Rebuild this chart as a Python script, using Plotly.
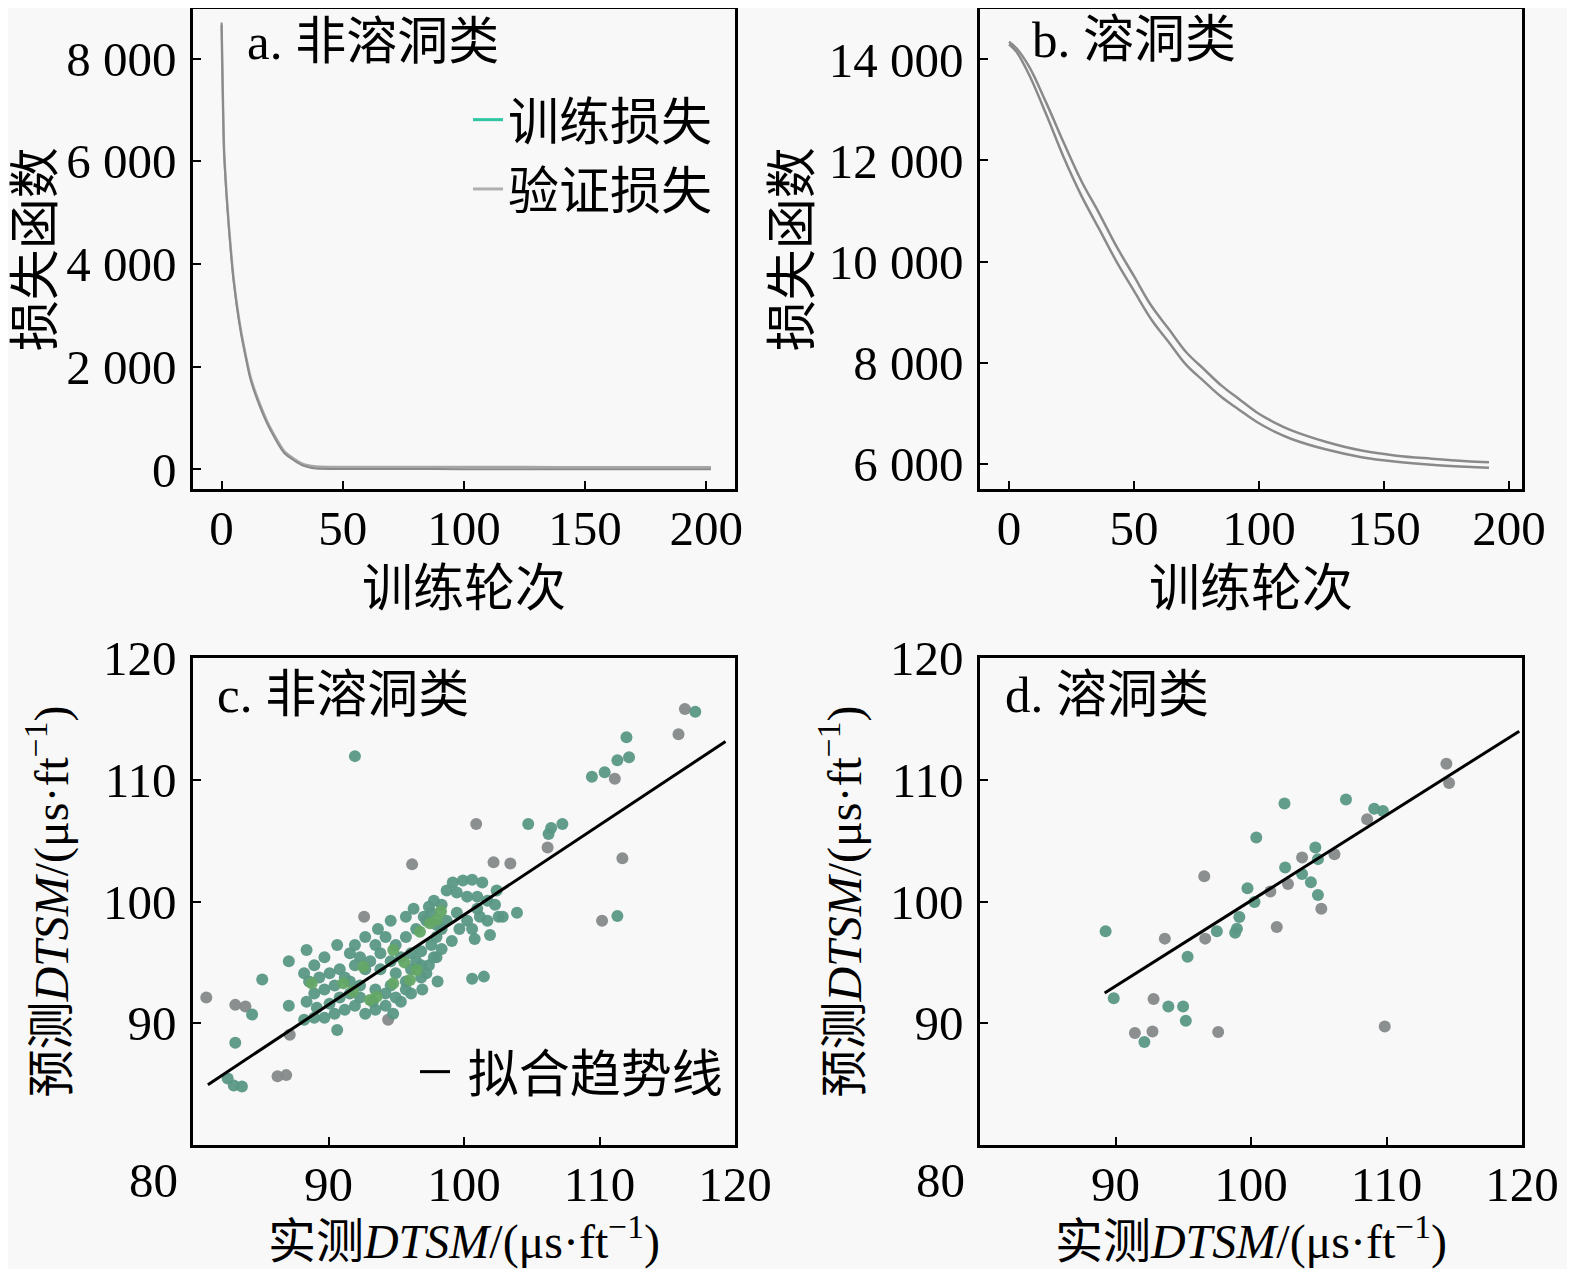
import numpy as np
import plotly.graph_objects as go

FONT = "Liberation Serif, 'Noto Sans CJK SC', serif"

# ---- a. 非溶洞类: loss curves ----
epochs_a = [0, 1, 2, 3, 5, 8, 12, 16, 20, 26, 33, 39, 50, 75, 100, 125, 150, 175, 202]
train_loss_a = [8700, 6200, 5350, 4700, 3650, 2650, 1740, 1200, 780, 310, 88, 20, 10, 8, 6, 5, 5, 4, 4]
val_loss_a = [8650, 6250, 5400, 4750, 3700, 2700, 1790, 1250, 820, 350, 120, 60, 50, 48, 47, 46, 45, 45, 45]

# ---- b. 溶洞类: loss curves ----
epochs_b = [0, 3, 8, 15, 22, 29, 36, 43, 50, 57, 64, 71, 78, 85, 92, 99, 106, 113, 127, 141, 155, 169, 183, 192]
train_loss_b = [14350, 14220, 13860, 13130, 12340, 11590, 10960, 10300, 9710, 9120, 8660, 8200, 7870,
                7545, 7280, 7020, 6820, 6660, 6430, 6260, 6160, 6100, 6050, 6030]
val_loss_b = [14300, 14150, 13700, 12900, 12050, 11300, 10650, 10000, 9420, 8850, 8400, 7950, 7630,
              7320, 7070, 6830, 6640, 6490, 6280, 6130, 6040, 5980, 5940, 5920]

# ---- c. 非溶洞类: measured vs predicted DTSM ----
c_teal_x = [117.07, 111.99, 112.18, 111.32, 109.44, 110.38, 91.95, 104.74, 106.43, 107.26, 106.24, 103.91,
            111.32, 101.47, 100.6, 84.36, 85.11, 87.07, 87.07, 83.12, 82.56, 83.01, 83.61, 88.38, 90.64,
            98.05, 96.92, 100.79, 101.92, 102.56, 102.41,
            99.17, 99.92, 100.60, 101.35, 98.72, 99.47, 100.23, 100.98, 101.73, 102.29, 102.86, 101.17,
            100.23, 99.47, 98.35, 97.78, 97.59, 98.72, 100.60, 101.73, 100.98, 99.66, 98.35, 99.10, 97.97,
            97.59, 96.84, 96.47, 97.97, 98.35,
            95.71, 94.59, 93.65, 94.21, 92.71, 91.95, 93.46, 94.96, 95.71, 96.47, 97.22, 96.09, 95.34,
            94.59, 93.83, 93.08, 92.33, 91.58, 91.95, 92.71, 93.83, 94.96, 96.09, 96.84, 97.22, 95.71,
            94.59, 93.46, 92.33, 91.58,
            90.64, 89.70, 88.95, 88.20, 88.57, 89.32, 90.08, 90.83, 91.20, 90.45, 89.70, 88.95, 88.38,
            89.14, 90.08, 90.83, 91.58, 92.33, 91.95, 91.20, 90.45, 89.70, 88.95, 88.20, 93.27, 94.21,
            94.96, 94.21, 93.46, 92.71,
            96.09, 95.34, 94.77, 95.71, 96.84, 97.41, 97.78, 97.97, 97.03, 96.28, 97.41]
c_teal_y = [115.59, 113.50, 111.84, 111.61, 110.25, 110.61, 111.94, 106.37, 106.04, 106.37, 105.54, 99.07,
            98.81, 93.83, 93.66, 90.71, 93.60, 95.09, 91.44, 88.39, 85.47, 84.88, 84.81, 96.02, 89.45,
            93.43, 92.77, 96.92, 97.25, 98.74, 100.90,
            101.56, 101.72, 101.79, 101.56, 100.90, 100.73, 100.40, 100.40, 100.07, 99.73, 98.74, 98.74,
            98.41, 99.07, 99.73, 100.07, 99.07, 98.41, 97.74, 98.41, 99.40, 97.74, 97.74, 96.75, 97.08,
            96.42, 95.92, 95.09, 95.42, 96.09,
            98.74, 98.41, 97.74, 97.08, 97.08, 96.42, 96.42, 96.42, 97.08, 97.74, 98.41, 95.75, 95.42,
            95.09, 95.75, 95.09, 95.42, 95.75, 94.76, 94.43, 94.43, 94.10, 94.43, 94.76, 94.10, 93.43,
            93.10, 92.77, 93.10, 93.43,
            96.42, 95.42, 94.76, 94.10, 93.43, 93.76, 94.10, 94.43, 93.76, 93.10, 92.77, 92.44, 91.77,
            91.28, 91.61, 92.11, 92.44, 92.11, 91.44, 91.11, 90.78, 90.45, 90.45, 90.28, 91.77, 91.44,
            92.11, 92.44, 91.11, 90.78,
            92.44, 91.77, 90.78, 92.77, 93.76, 94.76, 95.42, 98.08, 98.74, 99.40, 99.57]
c_gray_x = [116.30, 115.83, 111.13, 100.90, 106.17, 111.69, 96.17, 102.18, 103.42, 80.98, 83.12, 83.87,
            92.63, 110.19, 86.24, 86.88, 87.14, 94.40]
c_gray_y = [115.82, 113.73, 110.08, 106.37, 104.44, 103.55, 103.05, 103.22, 103.12, 92.11, 91.51, 91.38,
            98.74, 98.41, 85.64, 85.74, 89.05, 90.28]
c_green_x = [88.76, 91.09, 93.06, 94.78, 94.78, 96.51, 97.49, 97.98, 96.75, 92.57, 93.55, 96.01, 91.80,
             95.60, 98.30]
c_green_y = [93.28, 93.28, 91.91, 96.02, 93.28, 94.37, 98.21, 98.48, 97.52, 94.64, 92.18, 93.55, 92.60,
             95.00, 99.20]
fit_c_slope, fit_c_intercept = 0.738, 25.10
fit_c_xrange = [81.1, 119.3]

# ---- d. 溶洞类: measured vs predicted DTSM ----
d_teal_x = [102.47, 107.01, 109.09, 109.74, 100.39, 104.75, 104.94, 102.52, 103.77, 104.42, 104.94, 99.74,
            100.26, 99.14, 98.96, 98.83, 97.48, 89.27, 95.32, 89.87, 93.90, 94.99, 95.19, 92.13]
d_teal_y = [108.05, 108.38, 107.62, 107.43, 105.25, 104.44, 103.48, 102.80, 102.26, 101.58, 100.54, 101.09,
            99.95, 98.72, 97.77, 97.44, 97.55, 97.55, 95.46, 92.05, 91.37, 91.37, 90.20, 88.46]
d_gray_x = [114.42, 114.62, 108.57, 103.77, 106.16, 96.55, 102.73, 105.19, 101.43, 96.62, 93.64, 101.90,
            92.81, 91.43, 92.73, 97.58, 109.87]
d_gray_y = [111.32, 109.74, 106.75, 103.62, 103.89, 102.07, 101.44, 99.40, 100.82, 96.95, 96.95, 97.90,
            92.00, 89.20, 89.33, 89.28, 89.74]
fit_d_slope, fit_d_intercept = 0.703, 29.77
fit_d_xrange = [89.2, 119.8]

TEAL = "#5a9885"
GRAY = "#85898a"
GREEN = "#63a765"

# page body has an 8 px margin, so the figure starts at (8, 8)
W, H, OFF = 1559, 1261, 8


def px(x):
    return (x - OFF) / W


def py(y):
    return 1 - (y - OFF) / H


fig = go.Figure()

# panel a
fig.add_trace(go.Scatter(x=epochs_a, y=val_loss_a, mode="lines",
                         line=dict(color="#a6a6a6", width=2.5, shape="spline", smoothing=0.5),
                         showlegend=False, xaxis="x", yaxis="y"))
fig.add_trace(go.Scatter(x=epochs_a, y=train_loss_a, mode="lines",
                         line=dict(color="#8a8a8a", width=2, shape="spline", smoothing=0.5),
                         showlegend=False, xaxis="x", yaxis="y"))
fig.add_trace(go.Scatter(x=[None], y=[None], mode="lines", line=dict(color="#2fc4a4", width=3),
                         name="训练损失", xaxis="x", yaxis="y"))
fig.add_trace(go.Scatter(x=[None], y=[None], mode="lines", line=dict(color="#b0b0b0", width=3),
                         name="验证损失", xaxis="x", yaxis="y"))

# panel b
fig.add_trace(go.Scatter(x=epochs_b, y=train_loss_b, mode="lines",
                         line=dict(color="#8a8a8a", width=2.5, shape="spline"),
                         showlegend=False, xaxis="x2", yaxis="y2"))
fig.add_trace(go.Scatter(x=epochs_b, y=val_loss_b, mode="lines",
                         line=dict(color="#8a8a8a", width=2.5, shape="spline"),
                         showlegend=False, xaxis="x2", yaxis="y2"))

# panel c
for xs, ys, col in [(c_gray_x, c_gray_y, GRAY), (c_teal_x, c_teal_y, TEAL), (c_green_x, c_green_y, GREEN)]:
    fig.add_trace(go.Scatter(x=xs, y=ys, mode="markers", marker=dict(color=col, size=12, opacity=0.95),
                             showlegend=False, xaxis="x3", yaxis="y3"))
fx = np.array(fit_c_xrange)
fig.add_trace(go.Scatter(x=fx, y=fit_c_slope * fx + fit_c_intercept, mode="lines",
                         line=dict(color="black", width=3), name=" 拟合趋势线", legend="legend2",
                         xaxis="x3", yaxis="y3"))

# panel d
for xs, ys, col in [(d_gray_x, d_gray_y, GRAY), (d_teal_x, d_teal_y, TEAL)]:
    fig.add_trace(go.Scatter(x=xs, y=ys, mode="markers", marker=dict(color=col, size=12, opacity=0.95),
                             showlegend=False, xaxis="x4", yaxis="y4"))
fx = np.array(fit_d_xrange)
fig.add_trace(go.Scatter(x=fx, y=fit_d_slope * fx + fit_d_intercept, mode="lines",
                         line=dict(color="black", width=3), showlegend=False, xaxis="x4", yaxis="y4"))


def axis(domain, rng, anchor, **kw):
    d = dict(domain=domain, range=rng, anchor=anchor, showline=True, linecolor="black", linewidth=2.5,
             mirror=True, ticks="inside", ticklen=8, tickwidth=2, tickcolor="black", showgrid=False,
             zeroline=False, automargin=False, tickfont=dict(size=49, family=FONT, color="black"))
    d.update(kw)
    return d


col1 = [px(193), px(735)]
col2 = [px(980), px(1522)]
row1 = [py(489), 0.999]
row2 = [py(1145), py(658)]
cjk = dict(size=51, family=FONT, color="black")
dtsm_font = dict(size=48, family=FONT, color="black")
dtsm_x = "实测<i>DTSM</i>/(μs·ft<sup>−1</sup>)"
dtsm_y = "预测<i>DTSM</i>/(μs·ft<sup>−1</sup>)"

fig.update_layout(
    width=W, height=H,
    margin=dict(l=0, r=0, t=0, b=0),
    paper_bgcolor="#f8f8f8", plot_bgcolor="#f8f8f8",
    separators=". ",
    font=dict(family=FONT, color="black"),
    xaxis=axis(col1, [-11.8, 211.9], "y", tickvals=[0, 50, 100, 150, 200], ticklabelstandoff=-6,
               title=dict(text="训练轮次", font=cjk, standoff=16)),
    yaxis=axis(row1, [-380, 8959], "x", tickvals=[0, 2000, 4000, 6000, 8000], tickformat=",d",
               ticklabelstandoff=4, title=dict(text="损失函数", font=cjk, standoff=2)),
    xaxis2=axis(col2, [-11.6, 205.2], "y2", tickvals=[0, 50, 100, 150, 200], ticklabelstandoff=-6,
                title=dict(text="训练轮次", font=cjk, standoff=16)),
    yaxis2=axis(row1, [5500, 14992], "x2", tickvals=[6000, 8000, 10000, 12000, 14000], tickformat=",d",
                ticklabelstandoff=4, title=dict(text="损失函数", font=cjk, standoff=2)),
    xaxis3=axis(col1, [80, 120], "y3", tickvals=[90, 100, 110, 120], ticklabelstandoff=-6,
                title=dict(text=dtsm_x, font=dtsm_font, standoff=16)),
    yaxis3=axis(row2, [80, 120], "x3", tickvals=[90, 100, 110, 120], ticklabelstandoff=4,
                title=dict(text=dtsm_y, font=dtsm_font, standoff=20)),
    xaxis4=axis(col2, [80, 120], "y4", tickvals=[90, 100, 110, 120], ticklabelstandoff=-6,
                title=dict(text=dtsm_x, font=dtsm_font, standoff=16)),
    yaxis4=axis(row2, [80, 120], "x4", tickvals=[90, 100, 110, 120], ticklabelstandoff=4,
                title=dict(text=dtsm_y, font=dtsm_font, standoff=14)),
    legend=dict(x=px(718), xanchor="right", y=py(80), yanchor="top", bgcolor="rgba(0,0,0,0)",
                font=cjk, itemwidth=30, tracegroupgap=0),
    legend2=dict(x=px(728), xanchor="right", y=py(1112), yanchor="bottom", bgcolor="rgba(0,0,0,0)",
                 font=cjk, itemwidth=30),
)

panel_labels = [("a. 非溶洞类", 245, 42), ("b. 溶洞类", 1030, 40), ("c. 非溶洞类", 215, 695), ("d. 溶洞类", 1003, 695)]
for text, x0, y0 in panel_labels:
    fig.add_annotation(text=text, x=px(x0), y=py(y0), xref="paper", yref="paper", xanchor="left",
                       yanchor="middle", showarrow=False, font=cjk)
# shared corner label "80" of the scatter panels
for x0 in [153, 940]:
    fig.add_annotation(text="80", x=px(x0), y=py(1180), xref="paper", yref="paper", showarrow=False,
                       xanchor="center", yanchor="middle",
                       font=dict(size=49, family=FONT, color="black"))

fig.write_html("out.html")
